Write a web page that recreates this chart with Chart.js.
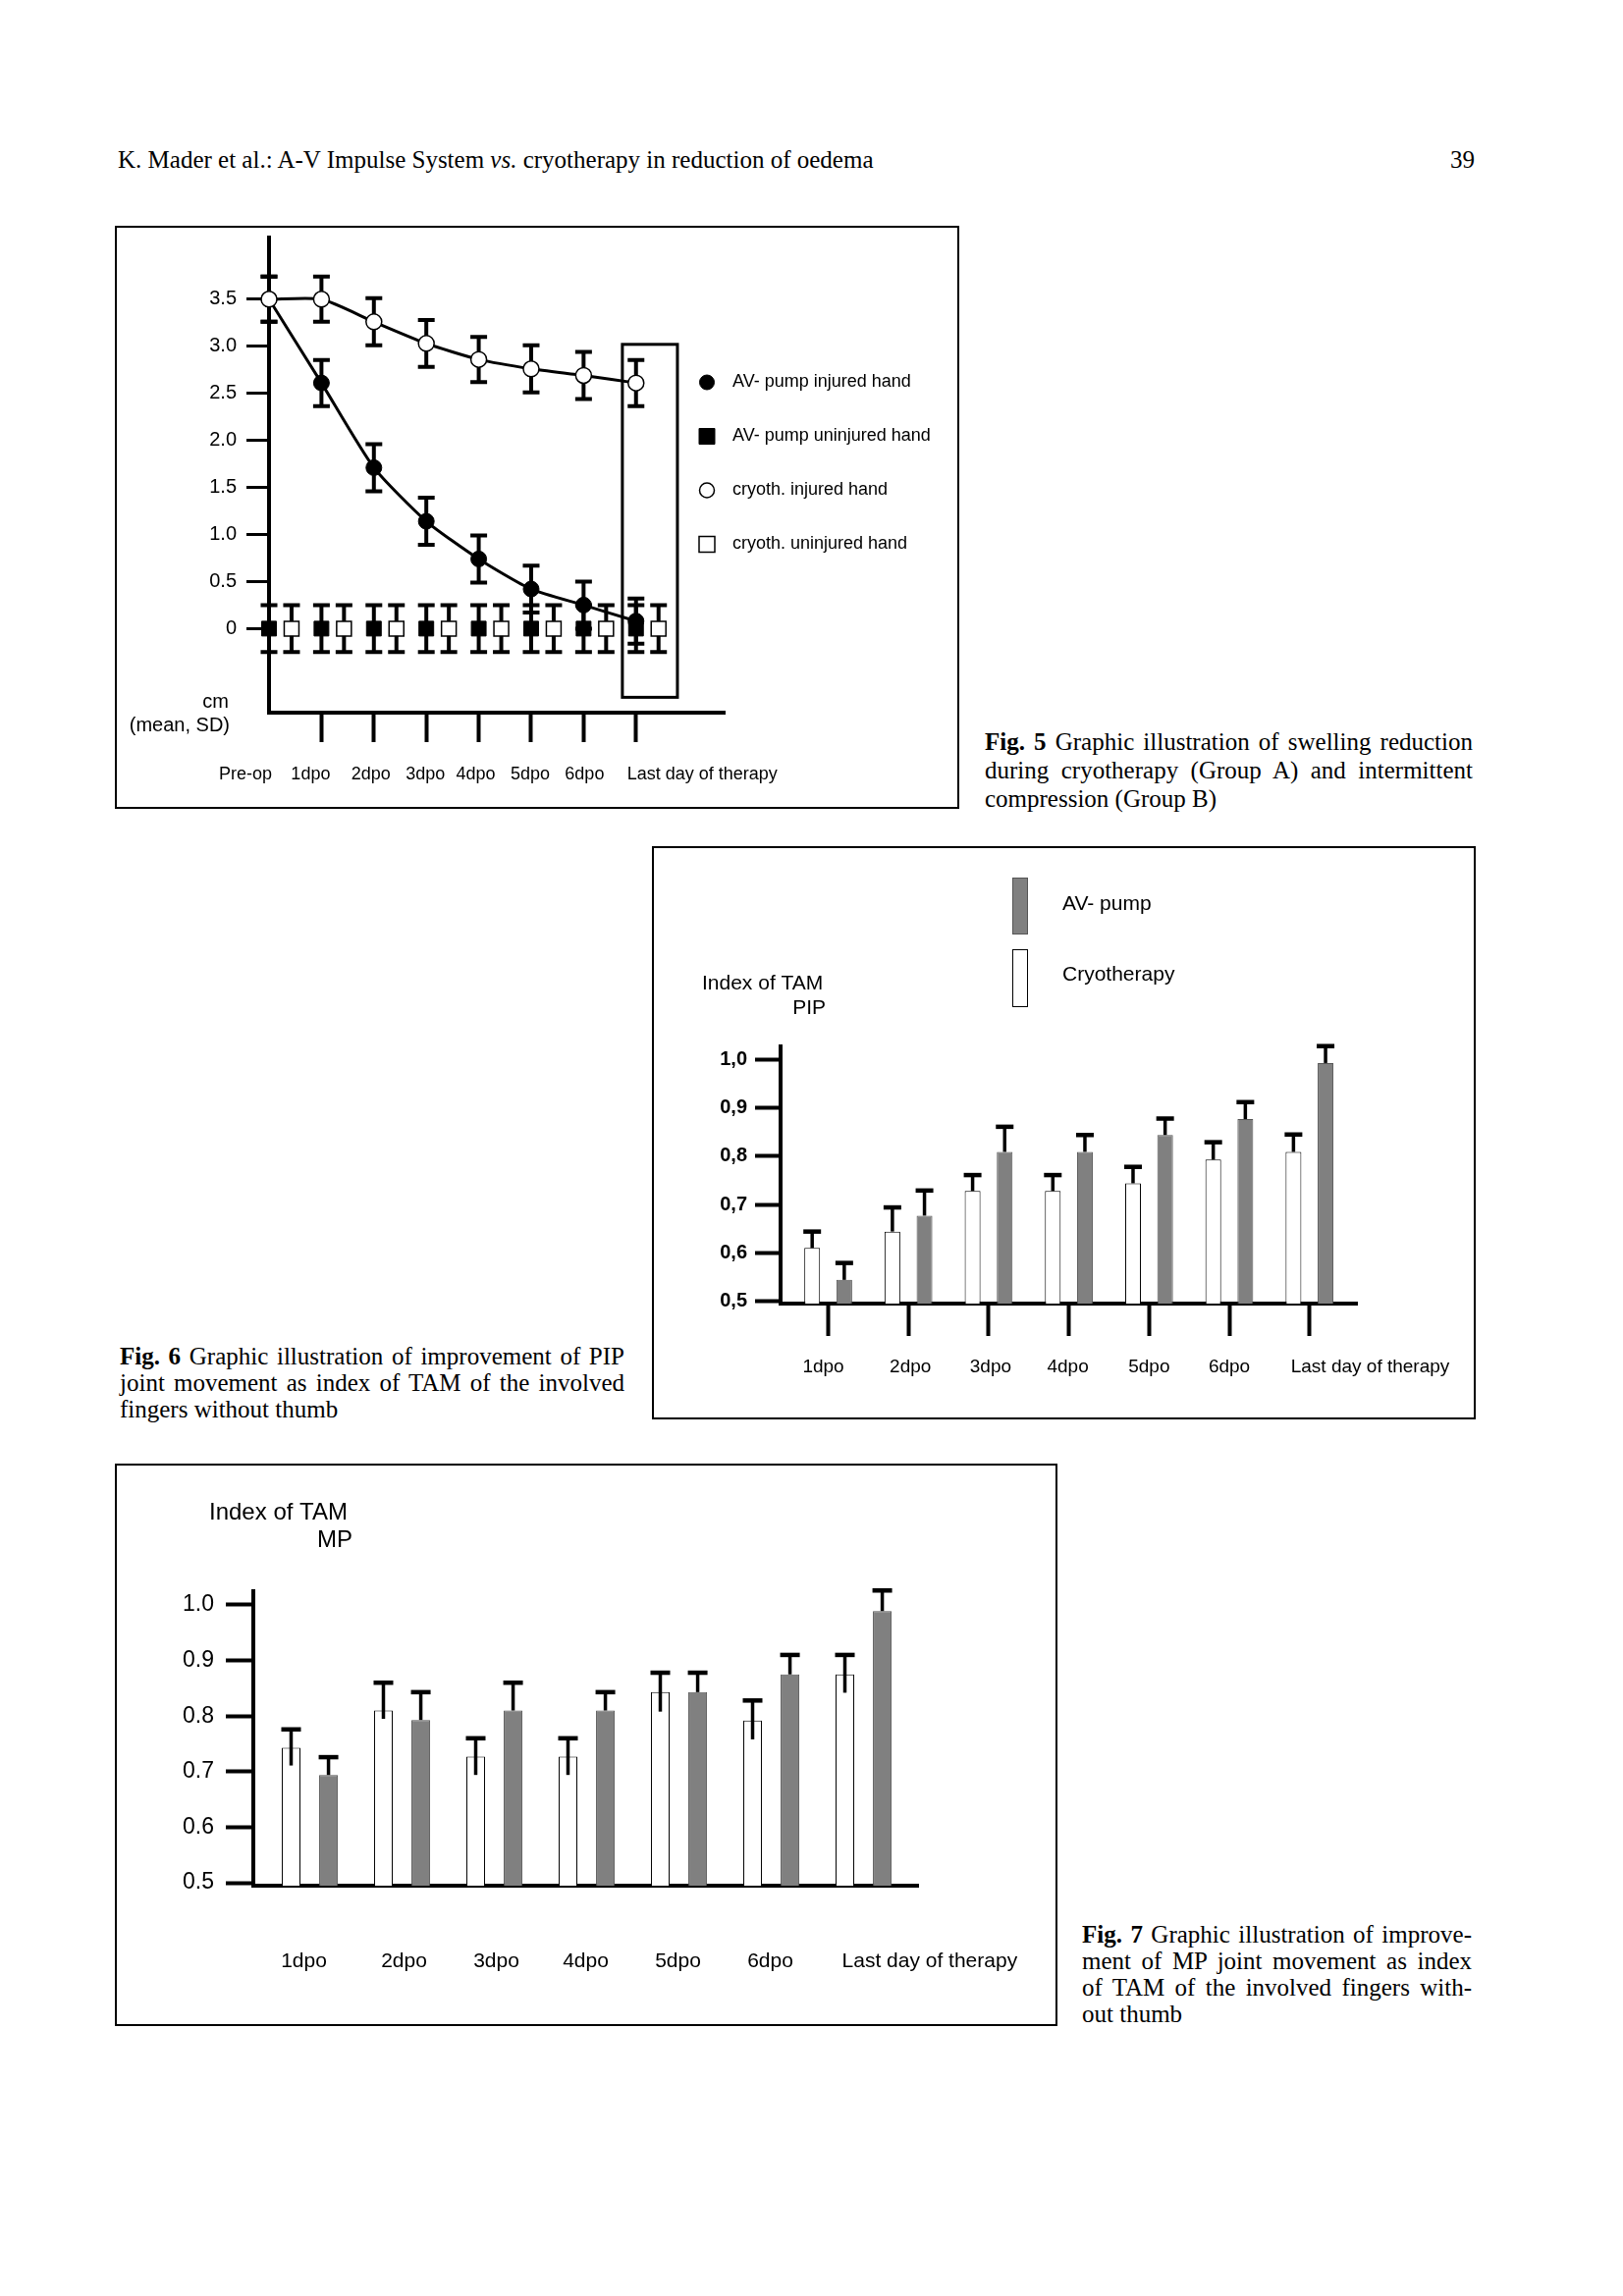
<!DOCTYPE html>
<html>
<head>
<meta charset="utf-8">
<title>Mader et al. - Fig. 5 to 7</title>
<script src="https://cdn.jsdelivr.net/npm/chart.js@4.4.1/dist/chart.umd.min.js"></script>
<style>
  html, body { margin: 0; padding: 0; background: #fff; }
  #page { position: relative; width: 1653px; height: 2339px; overflow: hidden; color: #000;
          font-family: "Liberation Serif", "Times New Roman", serif; }
  .box { position: absolute; border: 2px solid #000; box-sizing: border-box; }
  canvas { position: absolute; }
  .line { position: absolute; white-space: pre; font-size: 25px; line-height: 25px; }
</style>
</head>
<body>
<div id="page">
  <div class="line" style="left:120px;top:150px">K. Mader et al.: A-V Impulse System <i>vs.</i> cryotherapy in reduction of oedema</div>
  <div class="line" style="right:151px;top:150px">39</div>

  <canvas id="fig5" width="860" height="594" style="left:117px;top:230px;width:860px;height:594px"></canvas>
  <div class="box" style="left:117px;top:230px;width:860px;height:594px"></div>
  <div class="line just" data-w="497" style="left:1003px;top:743px"><b>Fig. 5</b> Graphic illustration of swelling reduction</div>
  <div class="line just" data-w="497" style="left:1003px;top:772px">during cryotherapy (Group A) and intermittent</div>
  <div class="line" style="left:1003px;top:801px">compression (Group B)</div>

  <canvas id="fig6" width="834" height="580" style="left:669px;top:866px;width:834px;height:580px"></canvas>
  <div class="box" style="left:664px;top:862px;width:839px;height:584px"></div>
  <div class="line just" data-w="514" style="left:122px;top:1369px"><b>Fig. 6</b> Graphic illustration of improvement of PIP</div>
  <div class="line just" data-w="514" style="left:122px;top:1396px">joint movement as index of TAM of the involved</div>
  <div class="line" style="left:122px;top:1423px">fingers without thumb</div>

  <canvas id="fig7" width="960" height="570" style="left:117px;top:1494px;width:960px;height:570px"></canvas>
  <div class="box" style="left:117px;top:1491px;width:960px;height:573px"></div>
  <div class="line just" data-w="397" style="left:1102px;top:1958px"><b>Fig. 7</b> Graphic illustration of improve-</div>
  <div class="line just" data-w="397" style="left:1102px;top:1985px">ment of MP joint movement as index</div>
  <div class="line just" data-w="397" style="left:1102px;top:2012px">of TAM of the involved fingers with-</div>
  <div class="line" style="left:1102px;top:2039px">out thumb</div>
</div>

<script>
'use strict';

//FIG 5 - SWELLING IN CM (MEAN, SD)
const swellLabels = ['Pre-op', '1dpo', '2dpo', '3dpo', '4dpo', '5dpo', '6dpo', 'Last day of therapy'];
const avInjured = [3.5, 2.61, 1.71, 1.14, 0.74, 0.42, 0.25, 0.08];
const avInjuredSD = [0.24, 0.245, 0.25, 0.25, 0.25, 0.25, 0.25, 0.24];
const avUninjured = [0, 0, 0, 0, 0, 0, 0, 0];
const avUninjuredSD = [0.25, 0.25, 0.25, 0.25, 0.25, 0.25, 0.25, 0.25];
const cryoInjured = [3.5, 3.5, 3.26, 3.03, 2.86, 2.76, 2.69, 2.61];
const cryoInjuredSD = [0.24, 0.24, 0.25, 0.25, 0.24, 0.25, 0.25, 0.245];
const cryoUninjured = [0, 0, 0, 0, 0, 0, 0, 0];
const cryoUninjuredSD = [0.25, 0.25, 0.25, 0.25, 0.25, 0.25, 0.25, 0.25];
const swellTicks = [0, 0.5, 1.0, 1.5, 2.0, 2.5, 3.0, 3.5];

//FIG 6 AND 7 - INDEX OF TAM
const dayLabels = ['1dpo', '2dpo', '3dpo', '4dpo', '5dpo', '6dpo', 'Last day of therapy'];
const pipCryo = [0.61, 0.644, 0.728, 0.728, 0.744, 0.793, 0.809];
const pipCryoSD = [0.034, 0.05, 0.033, 0.033, 0.034, 0.036, 0.036];
const pipAV = [0.544, 0.677, 0.809, 0.809, 0.844, 0.877, 0.993];
const pipAVSD = [0.035, 0.052, 0.052, 0.035, 0.034, 0.035, 0.035];

const mpCryo = [0.743, 0.81, 0.727, 0.727, 0.843, 0.792, 0.875];
const mpCryoSDUp = [0.033, 0.05, 0.033, 0.033, 0.035, 0.036, 0.035];
const mpCryoSDDown = [0.032, 0.015, 0.033, 0.033, 0.035, 0.034, 0.033];
const mpAV = [0.694, 0.793, 0.81, 0.81, 0.843, 0.875, 0.989];
const mpAVSD = [0.032, 0.05, 0.05, 0.033, 0.035, 0.035, 0.037];
const tamTicks = [0.5, 0.6, 0.7, 0.8, 0.9, 1.0];

const SANS = '"Liberation Sans", Arial, Helvetica, sans-serif';
Chart.defaults.font.family = SANS;
Chart.defaults.color = '#000';

function xy(values, shift) {
    return values.map(function (v, i) { return {x: i + shift, y: v}; });
}

function fixedTicks(list) {
    return function (scale) {
        scale.ticks = list.map(function (v) { return {value: v}; });
    };
}

function fixedSize(w, h) {
    return function (scale) {
        if (w !== null) scale.width = w;
        if (h !== null) scale.height = h;
        scale.paddingLeft = scale.paddingRight = scale.paddingTop = scale.paddingBottom = 0;
    };
}

function marker(ctx, style, r, x, y) {
    ctx.beginPath();
    if (style === 'circle') {
        ctx.arc(x, y, r, 0, Math.PI * 2);
    } else {
        ctx.rect(x - r, y - r, 2 * r, 2 * r);
    }
    ctx.fill();
    ctx.stroke();
}

//ERROR BARS, DRAWN FROM errUp / errDown ON EACH DATASET
const errorBars = {
    id: 'errorBars',
    beforeDatasetsDraw(chart, args, o) { if (o.drawTime === 'before') drawErrors(chart, o); },
    afterDatasetsDraw(chart, args, o) { if (o.drawTime !== 'before') drawErrors(chart, o); }
};

function drawErrors(chart, o) {
    const ctx = chart.ctx;
    const y = chart.scales.y;
    chart.data.datasets.forEach(function (ds, di) {
        if (!ds.errUp) return;
        chart.getDatasetMeta(di).data.forEach(function (el, i) {
            const v = ds.data[i].y;
            const top = y.getPixelForValue(v + ds.errUp[i]);
            const bottom = y.getPixelForValue(v - (ds.errDown ? ds.errDown[i] : 0));
            const hw = o.capWidth / 2;
            ctx.save();
            ctx.strokeStyle = '#000';
            ctx.lineWidth = o.lineWidth;
            ctx.beginPath();
            ctx.moveTo(el.x, top);
            ctx.lineTo(el.x, bottom);
            ctx.stroke();
            ctx.lineWidth = o.capThickness;
            ctx.beginPath();
            ctx.moveTo(el.x - hw, top);
            ctx.lineTo(el.x + hw, top);
            if (o.bottomCap && ds.errDown) {
                ctx.moveTo(el.x - hw, bottom);
                ctx.lineTo(el.x + hw, bottom);
            }
            ctx.stroke();
            ctx.restore();
        });
    });
}

//CATEGORY NAMES UNDER THE X AXIS
const categoryNames = {
    id: 'categoryNames',
    afterDraw(chart, args, o) {
        const ctx = chart.ctx;
        const x = chart.scales.x;
        ctx.save();
        ctx.font = o.font;
        ctx.fillStyle = '#000';
        ctx.textBaseline = 'middle';
        o.labels.forEach(function (t, i) {
            ctx.textAlign = i === o.labels.length - 1 ? 'left' : 'center';
            ctx.fillText(t, x.getPixelForValue(i) + o.shift[i], x.top + o.gap);
        });
        ctx.restore();
    }
};

//FREE TEXT (AXIS TITLES)
const notes = {
    id: 'notes',
    afterDraw(chart, args, o) {
        const ctx = chart.ctx;
        ctx.save();
        ctx.fillStyle = '#000';
        ctx.textBaseline = 'middle';
        o.items.forEach(function (t) {
            ctx.font = t.font;
            ctx.textAlign = t.align;
            ctx.fillText(t.text, t.x, t.y);
        });
        ctx.restore();
    }
};

//FRAME AROUND THE LAST DAY (FIG 5)
const frame = {
    id: 'frame',
    afterDatasetsDraw(chart, args, o) {
        if (!o.box) return;
        const ctx = chart.ctx;
        const sx = chart.scales.x, sy = chart.scales.y;
        const x1 = sx.getPixelForValue(o.box.xMin), x2 = sx.getPixelForValue(o.box.xMax);
        const y1 = sy.getPixelForValue(o.box.yMax), y2 = sy.getPixelForValue(o.box.yMin);
        ctx.save();
        ctx.strokeStyle = '#000';
        ctx.lineWidth = o.width;
        ctx.strokeRect(x1, y1, x2 - x1, y2 - y1);
        ctx.restore();
    }
};

//LEGEND WITH POINT MARKERS (FIG 5)
const pointLegend = {
    id: 'pointLegend',
    afterDraw(chart, args, o) {
        const ctx = chart.ctx;
        ctx.save();
        chart.data.datasets.forEach(function (ds, i) {
            const y = o.top + i * o.step;
            ctx.fillStyle = ds.pointBackgroundColor;
            ctx.strokeStyle = ds.pointBorderColor;
            ctx.lineWidth = ds.pointBorderWidth;
            marker(ctx, ds.pointStyle, o.size[i], o.x, y);
            ctx.fillStyle = '#000';
            ctx.font = o.font;
            ctx.textAlign = 'left';
            ctx.textBaseline = 'middle';
            ctx.fillText(ds.label, o.textX, y);
        });
        ctx.restore();
    }
};

//LEGEND WITH BAR SWATCHES (FIG 6)
const barLegend = {
    id: 'barLegend',
    afterDraw(chart, args, o) {
        if (!o.items) return;
        const ctx = chart.ctx;
        ctx.save();
        o.items.forEach(function (it) {
            const ds = chart.data.datasets[it.dataset];
            ctx.fillStyle = ds.backgroundColor;
            ctx.fillRect(o.x, it.top, o.w, it.h);
            ctx.strokeStyle = ds.borderColor;
            ctx.lineWidth = 1;
            ctx.strokeRect(o.x + 0.5, it.top + 0.5, o.w - 1, it.h - 1);
            ctx.fillStyle = '#000';
            ctx.font = o.font;
            ctx.textAlign = 'left';
            ctx.textBaseline = 'middle';
            ctx.fillText(ds.label, o.textX, it.textY);
        });
        ctx.restore();
    }
};

const baseOptions = {
    responsive: false,
    maintainAspectRatio: false,
    devicePixelRatio: 1,
    animation: false,
    events: []
};

//FIG 5
new Chart(document.getElementById('fig5'), {
    type: 'line',
    data: {
        datasets: [
            {
                label: 'AV- pump injured hand', data: xy(avInjured, 0), errUp: avInjuredSD, errDown: avInjuredSD,
                borderColor: '#000', borderWidth: 3, tension: 0.2, clip: false, order: 2,
                pointStyle: 'circle', pointRadius: 8, pointBackgroundColor: '#000', pointBorderColor: '#000', pointBorderWidth: 1
            },
            {
                label: 'AV- pump uninjured hand', data: xy(avUninjured, 0), errUp: avUninjuredSD, errDown: avUninjuredSD,
                showLine: false, clip: false, order: 3,
                pointStyle: 'rect', pointRadius: 10.6, pointBackgroundColor: '#000', pointBorderColor: '#000', pointBorderWidth: 1
            },
            {
                label: 'cryoth. injured hand', data: xy(cryoInjured, 0), errUp: cryoInjuredSD, errDown: cryoInjuredSD,
                borderColor: '#000', borderWidth: 3, tension: 0.2, clip: false, order: 1,
                pointStyle: 'circle', pointRadius: 8, pointBackgroundColor: '#fff', pointBorderColor: '#000', pointBorderWidth: 1.5
            },
            {
                label: 'cryoth. uninjured hand', data: xy(cryoUninjured, 0.43), errUp: cryoUninjuredSD, errDown: cryoUninjuredSD,
                showLine: false, clip: false, order: 4,
                pointStyle: 'rect', pointRadius: 10.6, pointBackgroundColor: '#fff', pointBorderColor: '#000', pointBorderWidth: 1.5
            }
        ]
    },
    options: Object.assign({}, baseOptions, {
        layout: {padding: {left: 0, top: 10, right: 239, bottom: 0}},
        scales: {
            x: {
                type: 'linear', min: 0, max: 8.69, offset: false,
                afterBuildTicks: fixedTicks(swellLabels.map(function (l, i) { return i; })),
                afterFit: fixedSize(null, 98),
                ticks: {display: false},
                grid: {
                    offset: false, drawOnChartArea: false, tickLength: 30, tickWidth: 4,
                    tickColor: function (c) { return c.tick && c.tick.value === 0 ? 'rgba(0,0,0,0)' : '#000'; }
                },
                border: {display: true, color: '#000', width: 4}
            },
            y: {
                min: -0.893, max: 4.154,
                afterBuildTicks: fixedTicks(swellTicks),
                afterFit: fixedSize(157, null),
                ticks: {
                    padding: 10, font: {size: 20}, color: '#000',
                    callback: function (v) { return v === 0 ? '0' : v.toFixed(1); }
                },
                grid: {drawOnChartArea: false, tickLength: 23, tickWidth: 3, tickColor: '#000'},
                border: {display: true, color: '#000', width: 4}
            }
        },
        plugins: {
            legend: {display: false},
            tooltip: {enabled: false},
            errorBars: {drawTime: 'before', lineWidth: 4, capWidth: 17, capThickness: 4, bottomCap: true},
            categoryNames: {labels: swellLabels, font: '18px ' + SANS, gap: 63, shift: [-24, -11, -3, -1, -3, -1, 1, -9]},
            frame: {box: {xMin: 6.74, xMax: 7.79, yMin: -0.73, yMax: 3.02}, width: 3},
            pointLegend: {x: 603, textX: 629, top: 159.5, step: 55, size: [7.5, 8, 7.5, 8], font: '18px ' + SANS},
            notes: {items: [
                {text: 'cm', x: 116, y: 485, align: 'right', font: '20px ' + SANS},
                {text: '(mean, SD)', x: 117, y: 509, align: 'right', font: '20px ' + SANS}
            ]}
        }
    }),
    plugins: [errorBars, categoryNames, frame, pointLegend, notes]
});

//FIG 6
new Chart(document.getElementById('fig6'), {
    type: 'bar',
    data: {
        datasets: [
            {label: 'Cryotherapy', data: xy(pipCryo, 0), errUp: pipCryoSD, backgroundColor: '#ffffff', borderColor: '#000', borderWidth: 1},
            {label: 'AV- pump', data: xy(pipAV, 0), errUp: pipAVSD, backgroundColor: '#808080', borderColor: '#555', borderWidth: 1}
        ]
    },
    options: Object.assign({}, baseOptions, {
        layout: {padding: {left: 0, top: 200, right: 121, bottom: 0}},
        datasets: {bar: {categoryPercentage: 0.8, barPercentage: 0.49}},
        scales: {
            x: {
                type: 'linear', min: -0.594, max: 6.591, offset: false,
                afterBuildTicks: fixedTicks(dayLabels.map(function (l, i) { return i; })),
                afterFit: fixedSize(null, 118),
                ticks: {display: false},
                grid: {offset: false, drawOnChartArea: false, tickLength: 33, tickWidth: 4, tickColor: '#000'},
                border: {display: true, color: '#000', width: 4}
            },
            y: {
                min: 0.4949, max: 1.0274,
                afterBuildTicks: fixedTicks(tamTicks),
                afterFit: fixedSize(126, null),
                ticks: {
                    padding: 8, font: {size: 20, weight: 'bold'}, color: '#000',
                    callback: function (v) { return v.toFixed(1).replace('.', ','); }
                },
                grid: {drawOnChartArea: false, tickLength: 26, tickWidth: 4, tickColor: '#000'},
                border: {display: true, color: '#000', width: 4}
            }
        },
        plugins: {
            legend: {display: false},
            tooltip: {enabled: false},
            errorBars: {drawTime: 'after', lineWidth: 3.5, capWidth: 18, capThickness: 4.5, bottomCap: false},
            categoryNames: {labels: dayLabels, font: '19px ' + SANS, gap: 65, shift: [-5, 2, 2, -1, 0, 0, -19]},
            barLegend: {x: 362, w: 16, textX: 413, font: '21px ' + SANS, items: [
                {dataset: 1, top: 28, h: 58, textY: 55},
                {dataset: 0, top: 101, h: 59, textY: 127}
            ]},
            notes: {items: [
                {text: 'Index of TAM', x: 46, y: 136, align: 'left', font: '21px ' + SANS},
                {text: 'PIP', x: 172, y: 161, align: 'right', font: '21px ' + SANS}
            ]}
        }
    }),
    plugins: [errorBars, categoryNames, barLegend, notes]
});

//FIG 7
new Chart(document.getElementById('fig7'), {
    type: 'bar',
    data: {
        datasets: [
            {label: 'Cryotherapy', data: xy(mpCryo, 0), errUp: mpCryoSDUp, errDown: mpCryoSDDown, backgroundColor: '#ffffff', borderColor: '#000', borderWidth: 1},
            {label: 'AV- pump', data: xy(mpAV, 0), errUp: mpAVSD, backgroundColor: '#808080', borderColor: '#555', borderWidth: 1}
        ]
    },
    options: Object.assign({}, baseOptions, {
        layout: {padding: {left: 0, top: 127, right: 142, bottom: 0}},
        datasets: {bar: {categoryPercentage: 0.81, barPercentage: 0.5}},
        scales: {
            x: {
                type: 'linear', min: -0.612, max: 6.59, offset: false,
                afterBuildTicks: fixedTicks(dayLabels.map(function (l, i) { return i; })),
                afterFit: fixedSize(null, 143),
                ticks: {display: false},
                grid: {display: false, offset: false},
                border: {display: true, color: '#000', width: 4}
            },
            y: {
                min: 0.4947, max: 1.0247,
                afterBuildTicks: fixedTicks(tamTicks),
                afterFit: fixedSize(141, null),
                ticks: {
                    padding: 12, font: {size: 23}, color: '#000',
                    callback: function (v) { return v.toFixed(1); }
                },
                grid: {drawOnChartArea: false, tickLength: 28, tickWidth: 4, tickColor: '#000'},
                border: {display: true, color: '#000', width: 4}
            }
        },
        plugins: {
            legend: {display: false},
            tooltip: {enabled: false},
            errorBars: {drawTime: 'after', lineWidth: 3.5, capWidth: 20, capThickness: 4.5, bottomCap: false},
            categoryNames: {labels: dayLabels, font: '21px ' + SANS, gap: 77, shift: [-6, 2, 2, -1, -1, -1, -22]},
            notes: {items: [
                {text: 'Index of TAM', x: 96, y: 47, align: 'left', font: '24px ' + SANS},
                {text: 'MP', x: 242, y: 75, align: 'right', font: '24px ' + SANS}
            ]}
        }
    }),
    plugins: [errorBars, categoryNames, notes]
});

//JUSTIFY CAPTION LINES TO THEIR COLUMN WIDTH
document.querySelectorAll('.just').forEach(function (el) {
    const target = Number(el.dataset.w);
    const natural = el.getBoundingClientRect().width;
    const spaces = (el.textContent.match(/ /g) || []).length;
    if (spaces) el.style.wordSpacing = ((target - natural) / spaces) + 'px';
});
</script>
</body>
</html>
